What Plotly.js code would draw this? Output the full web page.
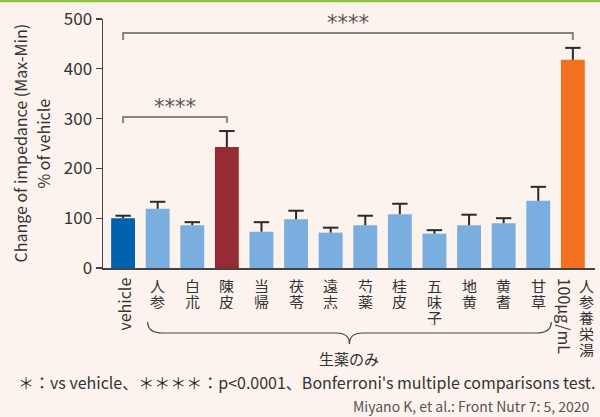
<!DOCTYPE html>
<html><head><meta charset="utf-8">
<script src="https://cdn.plot.ly/plotly-3.0.1.min.js"></script>
<style>html,body{margin:0;padding:0;background:#fcf3ee;}#chart{width:600px;height:417px;}</style>
</head><body><div id="chart"></div>
<script>
// ---- data ----
const categories = ['vehicle','人参','白朮','陳皮','当帰','茯苓','遠志','芍薬','桂皮','五味子','地黄','黄耆','甘草','人参養栄湯'];
const values     = [100, 119, 86, 243, 73, 98, 71, 86, 108, 69, 86, 90, 135, 418];
const errors     = [5, 14, 6, 32, 19, 17, 10, 19, 21, 7, 21, 10, 28, 24];
const barColors  = ['#0062ae','#7aaedf','#7aaedf','#962b34','#7aaedf','#7aaedf','#7aaedf','#7aaedf','#7aaedf','#7aaedf','#7aaedf','#7aaedf','#7aaedf','#f37021'];
const yTicks     = [0, 100, 200, 300, 400, 500];
const yTitleLines = ['Change of impedance (Max-Min)', '% of vehicle'];
const doseLabel  = '100μg/mL';
const groupLabel = '生薬のみ';
const brackets   = [
  {from: 'vehicle', to: '陳皮', y: 303, drop: 12, text: '****'},
  {from: 'vehicle', to: '人参養栄湯', y: 472, drop: 14, text: '****'}
];
const footnote = '＊：vs vehicle、＊＊＊＊：p&lt;0.0001、Bonferroni\'s multiple comparisons test.';
const citation = 'Miyano K, et al.: Front Nutr 7: 5, 2020';

// ---- layout geometry ----
const W = 600, H = 417, M = {l: 103, r: 5, t: 19, b: 149};
const PW = W - M.l - M.r, PH = H - M.t - M.b;
const xRange = [-0.58, 13.64];
const FONT = '"Noto Sans CJK JP", "Noto Sans", sans-serif';
const idxToPaper = i => (i - xRange[0]) / (xRange[1] - xRange[0]);
const pxToIdx = px => px / PW * (xRange[1] - xRange[0]);
const pxX = px => (px - M.l) / PW;           // absolute pixel x -> paper
const pxY = py => (M.t + PH - py) / PH;      // absolute pixel y -> paper
const pyBelow = d => -d / PH;                // d pixels below the x axis

const shapes = [];
const annotations = [];

// top green rule
shapes.push({type: 'line', xref: 'paper', yref: 'paper', x0: pxX(0), x1: pxX(W),
  y0: pxY(1), y1: pxY(1), line: {color: '#8cc63f', width: 2.5}});

// significance brackets
brackets.forEach(b => {
  const i0 = categories.indexOf(b.from), i1 = categories.indexOf(b.to);
  shapes.push({type: 'path', xref: 'x', yref: 'y',
    path: `M${i0},${b.y - b.drop} L${i0},${b.y} L${i1},${b.y} L${i1},${b.y - b.drop}`,
    line: {color: '#8a8280', width: 2}});
  annotations.push({x: (i0 + i1) / 2, y: b.y, xref: 'x', yref: 'y', text: b.text, showarrow: false,
    yanchor: 'middle', yshift: 10, font: {family: '"DejaVu Sans", sans-serif', size: 21, color: '#555'}});
});

// y-axis title (two rotated lines)
const yTitleX = [19, 42];
yTitleLines.forEach((t, k) => {
  annotations.push({x: pxX(yTitleX[k]), y: 0.5, xref: 'paper', yref: 'paper', text: t, showarrow: false,
    textangle: -90, xanchor: 'center', yanchor: 'middle', font: {family: FONT, size: 16, color: '#333'}});
});

// category tick labels (vertical)
categories.forEach((c, i) => {
  if (c === 'vehicle') {
    annotations.push({x: c, y: 0, xref: 'x', yref: 'paper', text: c, showarrow: false, textangle: -90,
      yanchor: 'top', yshift: -8, font: {family: FONT, size: 16, color: '#333'}});
    return;
  }
  const isLast = i === categories.length - 1;
  Array.from(c).forEach((ch, j) => {
    annotations.push({x: c, y: 0, xref: 'x', yref: 'paper', text: ch, showarrow: false,
      yanchor: 'middle', yshift: -(16.5 + 16 * j), xshift: isLast ? 14 : 0,
      height: 16, borderpad: 0,
      font: {family: FONT, size: 15, color: '#333'}});
  });
  if (isLast) {
    annotations.push({x: c, y: 0, xref: 'x', yref: 'paper', text: doseLabel, showarrow: false, textangle: 90,
      yanchor: 'top', xshift: -7, yshift: -8, font: {family: FONT, size: 16, color: '#333'}});
  }
});

// brace under the crude-drug group
const bL = categories.indexOf('人参') - pxToIdx(10);
const bR = categories.indexOf('甘草') + pxToIdx(13);
const bM = (bL + bR) / 2;
const c15 = pxToIdx(15), c13 = pxToIdx(13);
const P = (i, d) => `${idxToPaper(i)},${pyBelow(d)}`;
shapes.push({type: 'path', xref: 'paper', yref: 'paper',
  path: `M${P(bL, 54)} Q${P(bL, 65)} ${P(bL + c15, 65)} L${P(bM - c13, 65)} Q${P(bM, 65)} ${P(bM, 76)}` +
        ` Q${P(bM, 65)} ${P(bM + c13, 65)} L${P(bR - c15, 65)} Q${P(bR, 65)} ${P(bR, 54)}`,
  line: {color: '#444', width: 1.2}});
annotations.push({x: idxToPaper(bM), y: pyBelow(90), xref: 'paper', yref: 'paper', text: groupLabel,
  showarrow: false, yanchor: 'middle', font: {family: FONT, size: 15, color: '#333'}});

// footnote & citation
annotations.push({x: pxX(306), y: pxY(382), xref: 'paper', yref: 'paper', text: footnote,
  showarrow: false, xanchor: 'center', yanchor: 'middle', font: {family: FONT, size: 16, color: '#333'}});
annotations.push({x: pxX(592), y: pxY(406), xref: 'paper', yref: 'paper', text: citation,
  showarrow: false, xanchor: 'right', yanchor: 'middle', font: {family: FONT, size: 14, color: '#555'}});

const barTrace = {
  type: 'bar', x: categories, y: values,
  marker: {color: barColors, line: {width: 0}},
  error_y: {type: 'data', array: errors, arrayminus: errors.map(() => 0), symmetric: false,
    color: '#2a2a2a', thickness: 2, width: 0},
  hoverinfo: 'skip'
};
const capTrace = {
  type: 'scatter', mode: 'markers', x: categories, y: values.map((v, i) => v + errors[i]),
  marker: {symbol: 'line-ew', size: 11, line: {width: 2, color: '#2a2a2a'}},
  hoverinfo: 'skip', cliponaxis: false
};

const layout = {
  width: W, height: H, margin: M,
  paper_bgcolor: '#fcf3ee', plot_bgcolor: '#fcf3ee',
  showlegend: false, bargap: 0.31,
  font: {family: FONT, color: '#333'},
  xaxis: {type: 'category', range: xRange, showticklabels: false, ticks: '', showgrid: false, zeroline: false,
    showline: true, linecolor: '#444', linewidth: 1.5, fixedrange: true},
  yaxis: {range: [0, 500], tickvals: yTicks, ticks: 'outside', ticklen: 6, tickwidth: 1.2, tickcolor: '#444',
    showline: true, linecolor: '#444', linewidth: 1.5, showgrid: false, zeroline: false,
    tickfont: {family: FONT, size: 17, color: '#333'}, automargin: false, fixedrange: true},
  shapes: shapes, annotations: annotations
};

Plotly.newPlot('chart', [barTrace, capTrace], layout, {displayModeBar: false, staticPlot: true});
</script></body></html>
